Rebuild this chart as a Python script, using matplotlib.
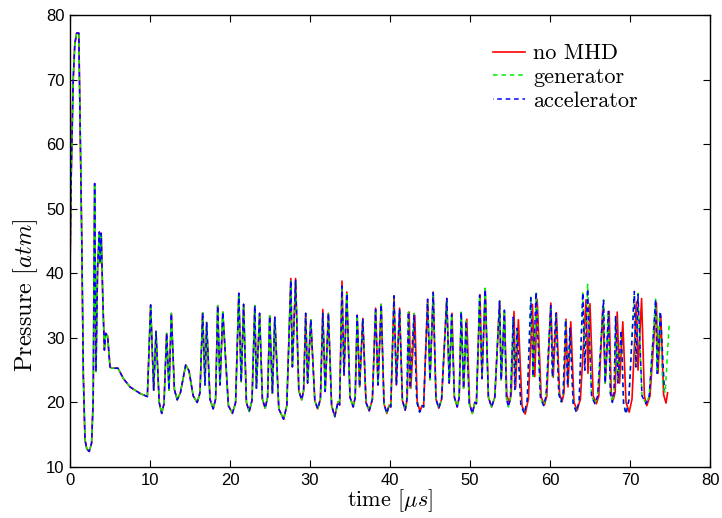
import matplotlib
matplotlib.use("Agg")
import matplotlib.pyplot as plt
import numpy as np

# ---- data (time in microseconds, pressure in atm) ----
early_t = [0.0, 0.15, 0.4, 0.6, 0.83, 1.1, 1.3, 1.46, 1.67, 1.875, 2.1, 2.4, 2.7, 2.9,
           3.08, 3.25, 3.45, 3.67, 3.75, 3.9, 4.1, 4.3, 4.46, 4.7, 5.0, 5.2, 6.0, 6.67,
           7.5, 8.75, 9.67, 10.08, 10.46, 10.75, 11.15, 11.46, 11.75, 12.08, 12.375, 12.67,
           13.05, 13.4, 13.8, 14.46, 14.875, 15.4, 15.9, 16.25, 16.58, 16.875, 17.08, 17.5,
           17.9, 18.2, 18.46, 18.75, 19.1, 19.8, 20.3, 20.7, 21.1, 21.4, 21.7, 22.05, 22.4,
           22.75, 23.1, 23.3, 23.7, 24.05, 24.4, 24.7, 24.96, 25.3, 25.6, 26.1]
early_p = [40.0, 55.0, 70.0, 75.5, 77.2, 77.2, 60.0, 46.2, 24.0, 14.2, 12.8, 12.4, 13.7, 20.4,
           53.9, 24.8, 41.0, 46.4, 41.6, 46.2, 36.0, 28.1, 30.7, 30.3, 25.5, 25.3, 25.3, 23.7,
           22.4, 21.4, 20.9, 35.1, 21.9, 31.0, 20.0, 18.3, 19.8, 30.7, 21.9, 33.8,
           22.0, 20.4, 21.5, 25.8, 24.9, 21.0, 20.0, 21.5, 33.9, 22.7, 32.4, 20.5,
           19.0, 20.5, 35.0, 22.7, 34.0, 19.5, 18.3, 20.0, 36.9, 23.2, 35.2, 20.0, 18.6,
           20.3, 35.0, 22.2, 33.8, 20.5, 19.1, 20.8, 33.4, 21.4, 33.2, 19.0]

nomhd_t = [26.7, 27.1, 27.6, 27.8, 28.2, 28.6, 28.96, 29.2, 29.46, 29.7, 30.1, 30.6, 30.96,
           31.3, 31.6, 31.9, 32.3, 32.7, 33.1, 33.5, 33.7, 34.0, 34.25, 34.6, 35.0, 35.4,
           35.65, 35.9, 36.2, 36.6, 37.0, 37.4, 37.8, 38.2, 38.5, 38.9, 39.25, 39.6, 39.9,
           40.1, 40.5, 40.8, 41.2, 41.55, 41.9, 42.15, 42.4, 42.6, 43.1, 43.4, 43.75, 44.0,
           44.2, 44.7, 45.0, 45.4, 45.75, 46.1, 46.45, 47.1, 47.4, 47.75, 48.05, 48.4, 48.65,
           48.9, 49.2, 49.6, 49.95, 50.3, 50.6, 50.8, 51.25, 51.5, 51.9, 52.3, 52.7, 53.1,
           53.7, 53.9, 54.3, 54.6, 54.9, 55.15, 55.5, 55.7, 56.05, 56.5, 56.9, 57.3, 57.8,
           58.1, 58.4, 58.9, 59.3, 59.6, 60.1, 60.4, 60.8, 61.2, 61.5, 61.75, 62.0, 62.25,
           62.6, 63.0, 63.4, 63.8, 64.5, 64.75, 65.0, 65.4, 65.8, 66.1, 66.6, 66.9, 67.4,
           67.65, 67.9, 68.15, 68.4, 68.7, 69.1, 69.5, 69.9, 70.25, 70.8, 71.0, 71.45, 71.8,
           72.1, 72.5, 73.3, 73.5, 73.85, 74.2, 74.5, 74.7]
nomhd_p = [17.4, 19.5, 39.2, 25.5, 39.2, 21.8, 20.4, 21.8, 33.8, 23.0, 32.8, 20.3, 19.0,
           20.5, 34.4, 21.7, 33.8, 19.5, 17.8, 20.1, 19.6, 38.8, 24.2, 37.1, 20.8, 19.3,
           20.8, 33.5, 22.4, 33.0, 20.0, 18.7, 20.5, 34.6, 22.7, 35.2, 19.8, 18.3, 19.6,
           19.3, 36.5, 22.7, 34.6, 20.3, 18.8, 20.5, 34.0, 22.2, 33.5, 20.2, 18.6, 19.5,
           19.3, 35.9, 23.5, 37.1, 20.5, 19.1, 20.5, 36.1, 23.0, 33.8, 20.8, 19.3, 20.8,
           33.8, 22.2, 32.9, 19.8, 18.3, 20.0, 19.8, 36.7, 23.7, 37.6, 20.8, 19.3, 20.8,
           35.7, 23.5, 34.0, 21.2, 19.9, 21.2, 34.1, 22.2, 32.8, 19.5, 18.2, 20.5, 35.2,
           24.0, 36.0, 20.8, 19.6, 21.0, 35.4, 23.9, 33.9, 21.3, 20.1, 21.5, 32.9, 22.4,
           32.5, 20.0, 18.8, 20.5, 35.9, 24.5, 35.3, 21.0, 19.8, 21.0, 34.9, 23.0, 34.1,
           21.6, 20.4, 21.6, 34.0, 23.0, 32.5, 20.0, 18.5, 20.5, 35.6, 25.0, 36.1, 21.0,
           19.5, 21.0, 35.5, 24.5, 33.4, 21.2, 19.9, 21.5]

gen_t = [26.7, 27.1, 27.6, 27.8, 28.2, 28.6, 28.96, 29.2, 29.46, 29.7, 30.1, 30.6, 30.96,
         31.3, 31.6, 31.9, 32.3, 32.7, 33.1, 33.5, 33.7, 34.0, 34.25, 34.6, 35.0, 35.4,
         35.65, 35.9, 36.2, 36.6, 37.0, 37.4, 37.8, 38.2, 38.5, 38.9, 39.25, 39.6, 39.9,
         40.1, 40.5, 40.8, 41.2, 41.55, 41.9, 42.1, 42.3, 42.5, 43.0, 43.35, 43.7, 44.0,
         44.2, 44.7, 45.0, 45.4, 45.75, 46.1, 46.45, 47.1, 47.4, 47.7, 48.05, 48.4, 48.65,
         48.9, 49.2, 49.5, 49.9, 50.3, 50.6, 50.8, 51.2, 51.5, 51.9, 52.3, 52.7, 53.1,
         53.7, 53.9, 54.3, 54.55, 54.8, 55.05, 55.4, 55.6, 55.9, 56.35, 56.8, 57.15, 57.6,
         57.9, 58.3, 58.8, 59.2, 59.5, 60.1, 60.3, 60.75, 61.1, 61.4, 61.65, 61.95, 62.2,
         62.5, 62.9, 63.3, 63.65, 64.1, 64.35, 64.7, 65.2, 65.6, 65.95, 66.7, 66.9, 67.3,
         67.55, 67.8, 68.0, 68.2, 68.5, 68.9, 69.2, 69.5, 69.85, 70.5, 70.7, 71.0, 71.5,
         72.0, 72.4, 73.2, 73.4, 73.7, 74.1, 74.4, 74.9]
gen_p = [17.4, 19.5, 38.8, 25.5, 38.9, 21.8, 20.4, 21.8, 33.8, 23.0, 32.8, 20.3, 19.0,
         20.5, 33.8, 21.7, 33.8, 19.5, 17.8, 20.1, 19.6, 37.6, 24.2, 36.8, 20.8, 19.3,
         20.8, 33.6, 22.4, 33.0, 20.0, 18.7, 20.5, 34.4, 22.7, 35.2, 19.8, 18.3, 19.6,
         19.3, 36.5, 22.7, 34.4, 20.3, 18.8, 20.5, 34.0, 22.2, 33.8, 20.1, 18.5, 19.5,
         19.3, 35.6, 23.5, 37.2, 20.5, 19.1, 20.5, 36.0, 23.0, 33.6, 20.8, 19.3, 20.8,
         34.0, 22.2, 32.6, 19.8, 18.3, 20.0, 19.8, 36.4, 23.7, 37.7, 20.8, 19.3, 20.8,
         35.7, 23.5, 34.3, 20.6, 19.3, 20.6, 33.0, 22.0, 31.3, 19.6, 18.3, 20.3, 36.6,
         24.0, 36.9, 20.8, 19.5, 21.0, 34.9, 24.0, 33.8, 21.3, 20.1, 21.5, 32.8, 22.6,
         30.8, 19.8, 18.5, 20.3, 37.1, 25.0, 38.3, 21.0, 19.8, 21.0, 35.9, 23.0, 34.1,
         21.4, 20.0, 21.4, 33.3, 23.0, 31.0, 19.8, 18.2, 20.3, 36.6, 25.5, 36.9, 21.0,
         19.8, 21.0, 36.0, 24.5, 33.8, 22.5, 21.5, 32.2]

acc_t = [26.7, 27.1, 27.6, 27.8, 28.2, 28.6, 28.96, 29.2, 29.46, 29.7, 30.1, 30.6, 30.96,
         31.3, 31.6, 31.9, 32.3, 32.7, 33.1, 33.5, 33.7, 34.0, 34.25, 34.6, 35.0, 35.4,
         35.65, 35.9, 36.2, 36.6, 37.0, 37.4, 37.8, 38.2, 38.5, 38.9, 39.25, 39.6, 39.9,
         40.1, 40.5, 40.8, 41.2, 41.55, 41.9, 42.1, 42.3, 42.5, 43.0, 43.35, 43.7, 44.0,
         44.2, 44.7, 45.0, 45.4, 45.75, 46.1, 46.45, 47.1, 47.4, 47.7, 48.05, 48.4, 48.65,
         48.9, 49.2, 49.5, 49.9, 50.3, 50.6, 50.8, 51.2, 51.5, 51.9, 52.3, 52.7, 53.1,
         53.7, 53.9, 54.3, 54.55, 54.8, 55.05, 55.4, 55.6, 55.9, 56.35, 56.8, 57.15, 57.6,
         57.9, 58.25, 58.8, 59.2, 59.5, 60.1, 60.3, 60.75, 61.1, 61.4, 61.65, 61.95, 62.2,
         62.5, 62.9, 63.3, 63.65, 64.1, 64.35, 64.7, 65.2, 65.6, 65.95, 66.7, 66.9, 67.3,
         67.55, 67.8, 68.0, 68.2, 68.5, 68.9, 69.2, 69.5, 69.85, 70.55, 70.75, 71.0, 71.5,
         72.0, 72.4, 73.2, 73.4, 73.8, 74.3]
acc_p = [17.4, 19.5, 38.9, 25.5, 38.9, 21.8, 20.4, 21.8, 33.8, 23.0, 32.8, 20.3, 19.0,
         20.5, 33.8, 21.7, 33.8, 19.5, 17.8, 20.1, 19.6, 38.0, 24.2, 36.9, 20.8, 19.3,
         20.8, 33.5, 22.4, 33.0, 20.0, 18.7, 20.5, 34.4, 22.7, 35.2, 19.8, 18.3, 19.6,
         19.3, 36.5, 22.7, 34.4, 20.3, 18.8, 20.5, 34.0, 22.2, 33.6, 20.1, 18.5, 19.5,
         19.3, 36.0, 23.5, 37.0, 20.5, 19.1, 20.5, 36.1, 23.0, 33.6, 20.8, 19.3, 20.8,
         34.0, 22.2, 32.6, 19.8, 18.3, 20.0, 19.8, 36.6, 23.7, 37.5, 20.8, 19.3, 20.8,
         35.7, 23.5, 34.3, 20.6, 19.3, 20.6, 33.2, 22.0, 31.5, 19.6, 18.3, 20.3, 36.2,
         24.0, 37.1, 20.8, 19.5, 21.0, 35.0, 24.0, 33.8, 21.3, 20.1, 21.5, 32.8, 22.6,
         31.5, 19.8, 18.5, 20.3, 37.0, 25.0, 37.6, 21.0, 19.8, 21.0, 35.9, 23.0, 34.1,
         21.4, 20.0, 21.4, 33.3, 23.0, 31.2, 19.8, 18.2, 20.3, 37.2, 25.5, 36.7, 21.0,
         19.8, 21.0, 35.9, 24.5, 34.1, 22.0]

series_labels = ["no MHD", "generator", "accelerator"]
series_colors = ["#ff0000", "#00ee00", "#0000ff"]

# ---- style ----
plt.rcParams['mathtext.fontset'] = 'cm'
plt.rcParams['axes.unicode_minus'] = False
serif = ['cmr10', 'DejaVu Serif']
sans = ['Liberation Sans', 'DejaVu Sans']

fig = plt.figure(figsize=(7.22, 5.18), dpi=100)
ax = fig.add_axes([70/722, 51/518, 640/722, 452/518])

ax.plot(early_t + nomhd_t, early_p + nomhd_p, color=series_colors[0], lw=1.2,
        label=series_labels[0])
ax.plot(early_t + gen_t, early_p + gen_p, color=series_colors[1], lw=1.1,
        ls=(0, (3, 2.5)), label=series_labels[1])
ax.plot(early_t + acc_t, early_p + acc_p, color=series_colors[2], lw=1.1,
        ls=(2.7, (3, 2.5)), label=series_labels[2])

ax.set_xlim(0, 80)
ax.set_ylim(10, 80)
ax.set_xticks(np.arange(0, 81, 10))
ax.set_yticks(np.arange(10, 81, 10))
ax.tick_params(direction='in', top=True, right=True, length=5, width=0.8, labelsize=12, pad=4)
for lab in ax.get_xticklabels() + ax.get_yticklabels():
    lab.set_family(sans)
for sp in ax.spines.values():
    sp.set_linewidth(1.0)

ax.set_xlabel(r"time $[\mu s]$", family=serif, fontsize=16, labelpad=0)
ax.set_ylabel(r"Pressure $[atm]$", family=serif, fontsize=17.5)
ax.yaxis.set_label_coords(-0.047, 0.38)

leg = ax.legend(loc='upper left', frameon=False, prop={'family': serif, 'size': 16},
                handlelength=1.45, handletextpad=0.35, labelspacing=0.18,
                borderpad=0, borderaxespad=0, bbox_to_anchor=(0.661, 0.936))

fig.savefig("out.png", dpi=100)
